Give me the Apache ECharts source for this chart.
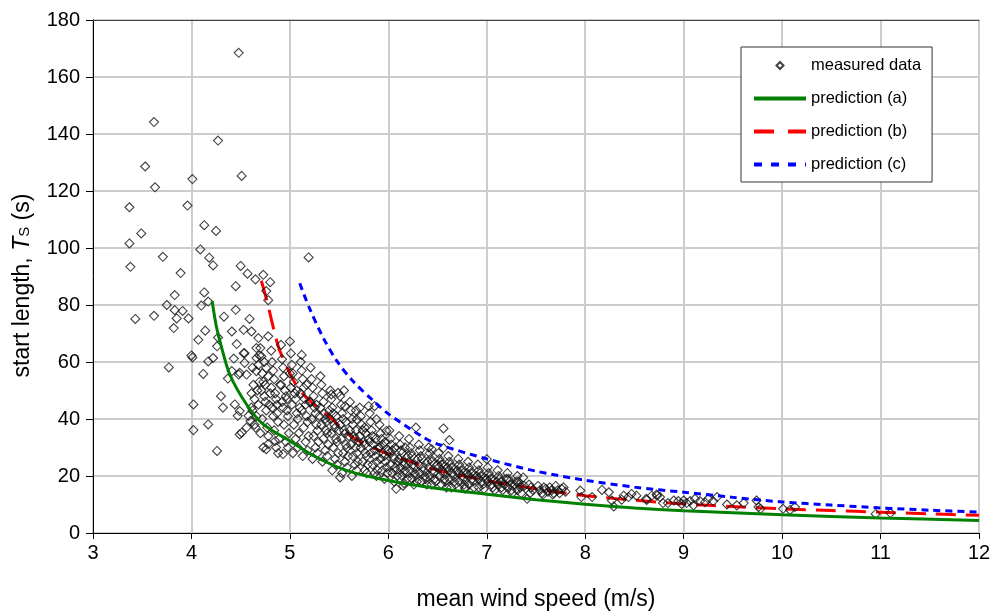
<!DOCTYPE html>
<html><head><meta charset="utf-8">
<script src="https://cdn.jsdelivr.net/npm/echarts@6/dist/echarts.min.js"></script>
<style>html,body{margin:0;padding:0;background:#fff}#c{width:995px;height:616px}</style>
</head><body><div id="c"></div>
<script>
// axis ranges
const xMin = 3, xMax = 12, xStep = 1;
const yMin = 0, yMax = 180, yStep = 20;

// measured data: sparse points (low wind speeds / outliers)
const measuredSparse = [
[4.48,168.5],[3.62,144.2],[4.27,137.7],[3.53,128.6],[4.01,124.2],[4.51,125.3],[3.63,121.3],[3.37,114.3],[3.96,114.9],[4.13,108],[4.25,106],[3.49,105.1],[3.37,101.6],[4.09,99.5],[3.71,96.9],[4.18,96.6],[4.22,93.9],[3.38,93.4],[4.50,93.7],[4.57,91],[4.73,90.6],[3.89,91.2],[4.65,89],[4.80,88],[4.45,86.6],[5.19,96.7],[3.83,83.5],[4.13,84.4],[4.76,84.9],
[4.17,81.2],[3.75,80],[3.43,75.1],[3.62,76.2],[3.83,78.2],[3.91,77.9],[3.85,75.3],[3.97,75.3],[3.82,71.9],[4.10,79.8],[4.33,75.9],[4.45,78.3],[4.78,81.7],
[4.14,71],[4.07,67.8],[4.27,68.6],[4.41,70.7],[4.53,71.3],[4.59,75.1],[4.61,70.7],[4.68,68.4],[4.66,64.9],[4.78,69],[4.46,66.3],[4.26,65.5],[4.54,63.1],[4.00,62.3],[4.01,61.6],[4.22,61.4],[4.17,60.2],[4.43,61.2],[4.69,62.3],[3.77,58.1],[4.12,55.8],[4.37,54.2],[4.49,56.2],[4.56,55.6],[4.66,56.8],[4.76,57.9],[4.30,48],[4.32,44],[4.02,45.1],[4.44,45.1],[4.17,38.1],[4.02,36.1],[4.26,28.8],[4.49,34.6],[4.58,41.1],[4.61,44],[4.65,37],[4.78,31.2],[4.76,29.4],[4.85,32.3],[4.93,27.7],
[4.49,42.8],[4.47,41.1],[4.60,39.3],[4.56,37.0],[4.51,35.2],[4.41,56.8],[4.48,55.6],[4.54,59.7],[4.53,63.1],[4.66,61.4],[4.70,64.9],[4.73,30],
[5.0,67.2],[5.12,62.5],[5.42,48.6],[5.49,49.2],[5.55,50],[5.56,44.5],[5.67,43],[5.68,39.9],[5.80,44.5],[5.86,44.5],[5.88,39.9],[5.98,35.8],[5.76,37],[5.51,19.5],
[6.28,37],[6.56,36.7],[6.62,32.6],[6.44,29.4],[6.56,29.8],[7.0,25.9],[7.37,19.5],[7.41,12],[7.95,14.9],[6.08,15.5],[6.15,16.6],[6.78,15.5]
];

// measured data: dense band
const measuredDense = [
[4.62,58],[4.63,52],[4.61,49],[4.64,47],[4.62,43],[4.67,50],[4.68,45],[4.66,41],[4.69,53],[4.64,38],[4.70,35],[4.68,59],
[4.71,62],[4.72,56],[4.73,53],[4.71,50],[4.74,48],[4.75,46],[4.76,43],[4.72,40],[4.77,37],[4.78,34],[4.75,52],[4.79,45],[4.78,55],[4.80,49],[4.74,60],
[4.81,64],[4.82,60],[4.83,57],[4.84,54],[4.81,51],[4.85,49],[4.86,47],[4.82,44],[4.87,42],[4.88,39],[4.84,36],[4.89,33],[4.86,30],[4.88,28],[4.90,52],[4.87,45],[4.83,41],
[4.91,66],[4.92,61],[4.93,58],[4.94,55],[4.91,52],[4.95,50],[4.96,48],[4.92,46],[4.97,43],[4.98,41],[4.94,38],[4.99,35],[4.96,32],[4.98,30],[5.00,56],[4.97,47],[4.93,44],
[5.01,63],[5.02,59],[5.03,56],[5.04,53],[5.01,51],[5.05,49],[5.06,47],[5.02,45],[5.07,42],[5.08,40],[5.04,38],[5.09,35],[5.06,33],[5.08,30],[5.03,28],[5.10,44],[5.07,50],
[5.11,60],[5.12,57],[5.13,54],[5.14,51],[5.11,49],[5.15,47],[5.16,45],[5.12,43],[5.17,41],[5.18,39],[5.14,37],[5.19,34],[5.16,32],[5.18,29],[5.13,27],[5.20,46],[5.17,52],
[5.21,58],[5.22,54],[5.23,51],[5.24,48],[5.21,46],[5.25,44],[5.26,42],[5.22,40],[5.27,38],[5.28,36],[5.24,34],[5.29,32],[5.26,30],[5.28,28],[5.23,26],[5.30,41],[5.27,45],
[5.31,55],[5.32,52],[5.33,49],[5.34,46],[5.31,44],[5.35,42],[5.36,40],[5.32,38],[5.37,36],[5.38,35],[5.34,33],[5.39,31],[5.36,29],[5.38,27],[5.33,25],[5.40,43],[5.37,39],
[5.41,50],[5.42,47],[5.43,44],[5.44,42],[5.41,40],[5.45,38],[5.46,37],[5.42,35],[5.47,33],[5.48,32],[5.44,30],[5.49,28],[5.46,26],[5.48,24],[5.43,22],[5.50,36],[5.47,41],
[5.51,48],[5.52,45],[5.53,42],[5.54,40],[5.51,38],[5.55,36],[5.56,35],[5.52,33],[5.57,31],[5.58,30],[5.54,28],[5.59,27],[5.56,25],[5.58,23],[5.53,21],[5.60,34],[5.57,39],
[5.61,46],[5.62,43],[5.63,40],[5.64,38],[5.61,36],[5.65,34],[5.66,33],[5.62,31],[5.67,30],[5.68,28],[5.64,27],[5.69,25],[5.66,24],[5.68,22],[5.63,20],[5.70,32],[5.67,36],
[5.71,44],[5.72,41],[5.73,38],[5.74,36],[5.71,34],[5.75,32],[5.76,31],[5.72,30],[5.77,28],[5.78,27],[5.74,25],[5.79,24],[5.76,22],[5.78,21],[5.80,33],[5.77,35],
[5.81,42],[5.82,39],[5.83,36],[5.84,34],[5.81,32],[5.85,31],[5.86,29],[5.82,28],[5.87,27],[5.88,25],[5.84,24],[5.89,22],[5.86,21],[5.88,20],[5.90,30],[5.87,33],
[5.91,38],[5.92,35],[5.93,33],[5.94,31],[5.91,30],[5.95,28],[5.96,27],[5.92,26],[5.97,25],[5.98,23],[5.94,22],[5.99,21],[5.96,19],[6.00,29],[5.97,32],
[6.01,36],[6.02,33],[6.03,31],[6.04,29],[6.01,28],[6.05,27],[6.06,26],[6.02,24],[6.07,23],[6.08,22],[6.04,21],[6.09,20],[6.06,18],[6.10,25],[6.07,30],
[6.11,34],[6.12,31],[6.13,29],[6.14,28],[6.11,26],[6.15,25],[6.16,24],[6.12,23],[6.17,22],[6.18,21],[6.14,20],[6.19,19],[6.16,17.5],[6.20,27],[6.17,30],
[6.21,33],[6.22,30],[6.23,28],[6.24,27],[6.21,25],[6.25,24],[6.26,23],[6.22,22],[6.27,21],[6.28,20],[6.24,19],[6.29,18],[6.26,17],[6.30,26],
[6.31,31],[6.32,29],[6.33,27],[6.34,26],[6.31,24],[6.35,23],[6.36,22],[6.32,21],[6.37,20],[6.38,19],[6.34,18],[6.39,17],[6.40,25],
[6.41,30],[6.42,28],[6.43,26],[6.44,25],[6.41,23],[6.45,22],[6.46,21],[6.42,20],[6.47,19],[6.48,18],[6.44,17],[6.50,24],
[6.51,28],[6.52,26],[6.53,25],[6.54,24],[6.51,23],[6.55,22],[6.56,21],[6.52,20],[6.57,19],[6.58,18],[6.54,17],[6.59,16],[6.60,23],
[6.61,27],[6.62,25],[6.63,24],[6.64,23],[6.61,22],[6.65,21],[6.66,20],[6.62,19],[6.67,18],[6.68,17],[6.64,16],[6.70,22],
[6.71,26],[6.72,24],[6.73,23],[6.74,22],[6.71,21],[6.75,20],[6.76,19],[6.72,18],[6.77,17],[6.78,16],[6.80,21],
[6.81,25],[6.82,23],[6.83,22],[6.84,21],[6.81,20],[6.85,19],[6.86,18],[6.82,17],[6.87,16],[6.90,20],
[6.91,24],[6.92,22],[6.93,21],[6.94,20],[6.91,19],[6.95,18],[6.96,17],[6.92,16],[6.97,15.5],[7.00,19],
[7.01,23],[7.02,21],[7.03,20],[7.04,19],[7.01,18],[7.05,17],[7.06,16],[7.08,15],[7.10,18],
[7.11,22],[7.12,20],[7.13,19],[7.14,18],[7.11,17],[7.15,16],[7.16,15],[7.18,17],[7.20,19],
[7.21,21],[7.22,19],[7.23,18],[7.24,17],[7.21,16],[7.25,15],[7.26,14],[7.28,17],[7.30,18],
[7.31,20],[7.32,18],[7.33,17],[7.34,16],[7.31,15],[7.35,14],[7.38,16.5],
[7.43,17],[7.45,16],[7.47,15],[7.44,14],
[7.52,16.5],[7.54,15],[7.56,14],[7.58,16],[7.60,15.5],[7.62,14.5],[7.64,16],[7.66,15],[7.68,14],[7.70,16.5],[7.72,15],[7.74,14],[7.76,15.5],[7.78,16],[7.80,14.5],[7.57,13.5],[7.67,13.5]
];

// measured data: high wind speeds
const measuredHigh = [
[7.96,12.6],[8.07,12.6],[8.17,15.1],[8.24,14.3],[8.27,11.4],[8.29,9.3],[8.39,13.1],[8.44,12.6],[8.52,13.1],[8.62,12],[8.73,13.1],[8.79,10.5],[8.90,11.4],[8.37,11.7],[8.47,13.7],
[8.625,11.6],[8.675,13.1],[8.726,13.5],[8.76,12.6],[8.84,10.5],[8.946,11.2],[8.98,10.2],[9.0,11.4],[9.03,10.5],[9.065,11.2],[9.10,9.7],[9.115,12.0],[9.166,11.2],[9.217,10.8],[9.25,12.0],[9.30,11.2],[9.34,12.6],[9.44,10.0],[9.54,9.7],[9.61,10.5],[9.74,11.4],[9.76,9.1],[9.78,8.5],[10.01,8.5],[10.08,8.1],[10.13,9.1],[10.95,6.7],[11.10,7.0]
];

// prediction curves
const predA = [[4.21,81.4],[4.25,73],[4.29,67.2],[4.39,55.6],[4.56,45.1],[4.73,38.1],[5.0,32.3],[5.24,27.1],[5.58,21.9],[6.0,18.4],[6.5,15.6],[7,13.6],[7.5,11.7],[8,10.1],[8.5,8.8],[9,7.8],[9.5,7.1],[10,6.4],[11,5.3],[12,4.4]];
const predB = [[4.71,88.5],[4.77,81],[4.85,69.5],[4.9,63.7],[5.05,52.7],[5.17,47.4],[5.41,40.5],[5.64,33.5],[5.92,28.8],[6.2,25.3],[6.5,22],[7,18.4],[7.5,15.5],[8,13.1],[8.5,11.5],[9,10.2],[9.5,9.3],[10,8.5],[10.5,7.9],[11,7.3],[11.5,6.7],[12,6.2]];
const predC = [[5.1,87.6],[5.2,78.8],[5.34,68.4],[5.48,60.2],[5.64,53.3],[5.85,46.3],[6.0,41.8],[6.36,33.5],[6.5,31.2],[7,26],[7.5,21.7],[8,18.5],[8.5,16.1],[9,14.3],[9.5,12.5],[10,10.9],[10.5,9.8],[11,8.8],[11.5,8.0],[12,7.3]];

const seriesNames = ['measured data','prediction (a)','prediction (b)','prediction (c)'];

const FONT = 'Liberation Sans, Arial, sans-serif';
const hiddenSym = { color: 'rgba(0,0,0,0)', borderColor: 'rgba(0,0,0,0)', borderWidth: 0 };
const chart = echarts.init(document.getElementById('c'), null, {renderer:'canvas'});
chart.setOption({
  animation: false,
  backgroundColor: '#fff',
  grid: { left: 93, right: 16, top: 20, bottom: 80, containLabel: false },
  legend: {
    orient: 'vertical', left: 741, top: 47,
    padding: [10, 11, 9, 11], itemGap: 16, itemWidth: 52, itemHeight: 14,
    borderColor: '#333', borderWidth: 1, backgroundColor: '#fff',
    textStyle: { fontFamily: FONT, fontSize: 16.5, color: '#000' },
    data: [
      { name: seriesNames[0], icon: 'path://M0,0M16,16M8,4L12,8L8,12L4,8Z' },
      { name: seriesNames[1], itemStyle: hiddenSym, lineStyle: { width: 4, color: '#008000', type: 'solid' } },
      { name: seriesNames[2], itemStyle: hiddenSym, lineStyle: { width: 4, color: '#ff0000', type: [20, 14] } },
      { name: seriesNames[3], itemStyle: hiddenSym, lineStyle: { width: 4, color: '#0000ff', type: [8, 9] } }
    ]
  },
  xAxis: [{
    type: 'value', min: xMin, max: xMax, interval: xStep,
    name: 'mean wind speed (m/s)', nameLocation: 'middle', nameGap: 55,
    nameTextStyle: { fontFamily: FONT, fontSize: 23, color: '#000' },
    axisLine: { lineStyle: { color: '#000', width: 1 } },
    axisTick: { show: true, length: 6, lineStyle: { color: '#000' } },
    axisLabel: { fontFamily: FONT, fontSize: 20, color: '#000', margin: 10 },
    splitLine: { show: true, lineStyle: { color: '#cccccc', width: 2 } }
  }, {
    type: 'value', min: xMin, max: xMax, interval: xStep, position: 'top',
    axisLine: { show: true, lineStyle: { color: '#444', width: 1 } },
    axisTick: { show: false }, axisLabel: { show: false }, splitLine: { show: false }
  }],
  yAxis: {
    type: 'value', min: yMin, max: yMax, interval: yStep,
    name: '{a|start length, }{i|T}{s|S}{a| (s)}', nameLocation: 'middle', nameGap: 55, nameRotate: 90,
    nameTextStyle: {
      fontFamily: FONT, fontSize: 23, color: '#000', padding: [0, 18, 0, 0],
      rich: {
        a: { fontFamily: FONT, fontSize: 23, color: '#000', padding: [0,0,4,0] },
        i: { fontFamily: FONT, fontSize: 23, color: '#000', fontStyle: 'italic', padding: [0,0,4,0] },
        s: { fontFamily: FONT, fontSize: 15, color: '#000' }
      }
    },
    axisLine: { show: true, lineStyle: { color: '#000', width: 1 } },
    axisTick: { show: true, length: 7, lineStyle: { color: '#000' } },
    axisLabel: { fontFamily: FONT, fontSize: 20, color: '#000', margin: 13 },
    splitLine: { show: true, lineStyle: { color: '#cccccc', width: 2 } }
  },
  series: [
    { name: seriesNames[2], type: 'line', data: predB, showSymbol: false, symbol: 'none', smooth: 0.3, z: 2,
      lineStyle: { color: '#ff0000', width: 3, type: [20, 10] }, itemStyle: { color: '#ff0000' } },
    { name: seriesNames[0], type: 'scatter', data: measuredSparse.concat(measuredDense, measuredHigh),
      symbol: 'diamond', symbolSize: 9, z: 3,
      itemStyle: { color: 'rgba(255,255,255,0)', borderColor: '#111', borderWidth: 1.1 } },
    { name: seriesNames[1], type: 'line', data: predA, showSymbol: false, symbol: 'none', smooth: 0.3, z: 4,
      lineStyle: { color: '#008000', width: 3 }, itemStyle: { color: '#008000' } },
    { name: seriesNames[3], type: 'line', data: predC, showSymbol: false, symbol: 'none', smooth: 0.3, z: 4,
      lineStyle: { color: '#0000ff', width: 3, type: [7, 5] }, itemStyle: { color: '#0000ff' } }
  ]
});
</script></body></html>
